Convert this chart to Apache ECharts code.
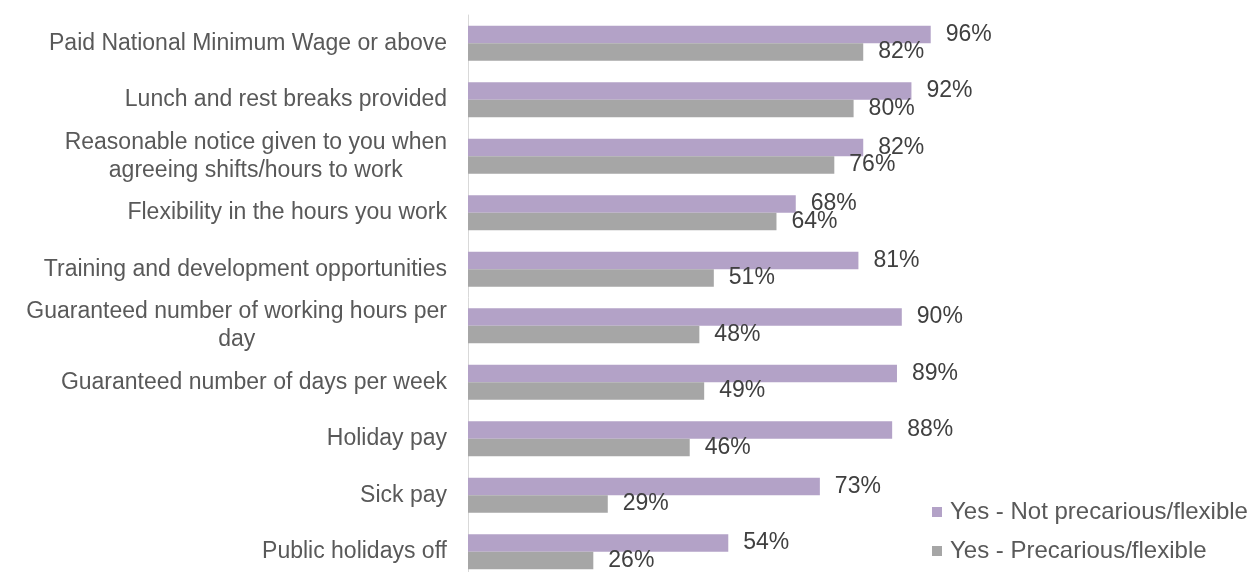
<!DOCTYPE html>
<html>
<head>
<meta charset="utf-8">
<script src="https://cdn.jsdelivr.net/npm/echarts@6/dist/echarts.min.js"></script>
<style>
  html, body { margin: 0; padding: 0; background: #ffffff; overflow: hidden; }
  /* the plot runs a little past the bottom edge of the window */
  #chart { width: 1252px; height: 590px; }
</style>
</head>
<body>
<div id="chart"></div>
<script>
// Job conditions, top to bottom
const categories = [
  'Paid National Minimum Wage or above',
  'Lunch and rest breaks provided',
  'Reasonable notice given to you when\nagreeing shifts/hours to work',
  'Flexibility in the hours you work',
  'Training and development opportunities',
  'Guaranteed number of working hours per\nday',
  'Guaranteed number of days per week',
  'Holiday pay',
  'Sick pay',
  'Public holidays off'
];
const seriesNames = ['Yes - Not precarious/flexible', 'Yes - Precarious/flexible'];
const notPrecarious = [96, 92, 82, 68, 81, 90, 89, 88, 73, 54];
const precarious = [82, 80, 76, 64, 51, 48, 49, 46, 29, 26];

const FONT = 'Liberation Sans, Arial, sans-serif';
const chart = echarts.init(document.getElementById('chart'), null, { renderer: 'canvas' });

function barSeries(name, data, color) {
  return {
    name: name,
    type: 'bar',
    data: data,
    barWidth: 17.5,
    barGap: '0%',
    itemStyle: { color: color },
    label: {
      show: true,
      position: 'right',
      distance: 15,
      formatter: '{c}%',
      fontFamily: FONT,
      fontSize: 23,
      color: '#404040'
    },
    emphasis: { disabled: true }
  };
}

chart.setOption({
  animation: false,
  backgroundColor: '#ffffff',
  grid: { left: 468, right: 302, top: 15, height: 565, containLabel: false },
  xAxis: {
    type: 'value',
    min: 0,
    max: 100,
    show: false
  },
  yAxis: {
    type: 'category',
    data: categories,
    inverse: true,
    axisLine: { show: true, lineStyle: { color: '#d9d9d9', width: 1 } },
    axisTick: { show: false },
    splitLine: { show: false },
    axisLabel: {
      margin: 21,
      fontFamily: FONT,
      fontSize: 23,
      color: '#595959',
      lineHeight: 28,
      formatter: function (v) {
        return v.split('\n').map(function (s) { return '{c|' + s + '}'; }).join('\n');
      },
      rich: {
        c: { align: 'center', fontFamily: FONT, fontSize: 23, color: '#595959', lineHeight: 28 }
      }
    }
  },
  legend: {
    data: seriesNames,
    orient: 'vertical',
    left: 927,
    top: 495,
    itemWidth: 10,
    itemHeight: 10,
    itemGap: 15,
    icon: 'rect',
    textStyle: { fontFamily: FONT, fontSize: 24, color: '#595959', padding: [0, 0, 0, 3] }
  },
  series: [
    barSeries(seriesNames[0], notPrecarious, '#b3a2c7'),
    barSeries(seriesNames[1], precarious, '#a6a6a6')
  ]
});
</script>
</body>
</html>
